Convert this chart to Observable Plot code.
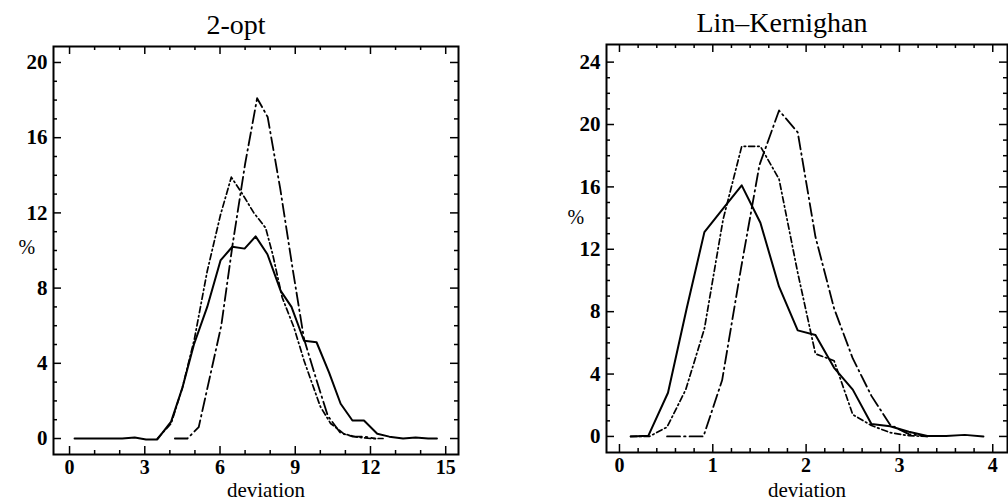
<!DOCTYPE html>
<html><head><meta charset="utf-8">
<script src="https://cdn.jsdelivr.net/npm/d3@7"></script>
<script src="https://cdn.jsdelivr.net/npm/@observablehq/plot@0.6"></script>
<style>
html,body{margin:0;padding:0;background:#fff;}
#wrap{position:relative;width:1008px;height:502px;overflow:hidden;}
.panel{position:absolute;top:0;width:504px;height:502px;}
</style>
</head><body>
<div id="wrap"><div class="panel" id="p1" style="left:0"></div><div class="panel" id="p2" style="left:504px"></div></div>
<script>
// ---------- 2-opt panel data ----------
const optTitle = "2-opt";
const optSolidX = [0.2,0.7,1.2,1.6,2.1,2.6,3.05,3.5,4.05,4.5,4.96,5.49,6.02,6.49,6.98,7.42,7.89,8.42,8.85,9.35,9.85,10.35,10.81,11.28,11.74,12.27,12.75,13.3,13.8,14.3,14.65];
const optSolidY = [0,0,0,0,0,0.05,-0.05,-0.05,0.9,2.7,5.0,7.0,9.47,10.2,10.1,10.75,9.8,7.85,7.0,5.2,5.12,3.5,1.85,0.96,0.96,0.25,0.1,0,0.05,0,0];
const optDashDotX = [3.5,4.05,4.5,4.98,5.49,6.02,6.45,6.85,7.35,7.82,8.1,8.48,8.95,9.35,9.68,10.0,10.41,10.94,11.47,12.0,12.5];
const optDashDotY = [0,0.8,2.7,5.3,8.9,11.9,13.9,13.1,12.0,11.2,9.8,7.5,5.9,4.15,2.9,1.7,0.8,0.25,0.07,0,0];
const optLongDashX = [4.2,4.7,5.15,5.6,6.05,6.5,7.0,7.48,7.9,8.4,8.9,9.35,9.85,10.3,10.8,11.3,11.75,12.2];
const optLongDashY = [0,0,0.6,3.3,6.0,10.3,14.6,18.1,17.1,13.3,9.0,5.3,3.1,1.2,0.3,0.1,0.1,0];
const optXTicks = [0,3,6,9,12,15];
const optXMinor = [1,2,4,5,7,8,10,11,13,14];
const optYTicks = [0,4,8,12,16,20];
const optYMinor = [1,2,3,5,6,7,9,10,11,13,14,15,17,18,19];

// ---------- Lin–Kernighan panel data ----------
const lkTitle = "Lin\u2013Kernighan";
const lkSolidX = [0.12,0.31,0.52,0.72,0.91,1.11,1.31,1.51,1.71,1.91,2.1,2.3,2.5,2.7,2.9,3.1,3.3,3.5,3.7,3.9];
const lkSolidY = [0,0.05,2.8,8.2,13.1,14.6,16.1,13.7,9.6,6.8,6.5,4.4,3.0,0.8,0.65,0.3,0.03,0.03,0.1,0];
const lkDashDotX = [0.12,0.32,0.51,0.71,0.91,1.11,1.31,1.51,1.71,1.91,2.1,2.3,2.5,2.7,2.9,3.1,3.3];
const lkDashDotY = [0,0,0.6,3.0,6.9,13.9,18.6,18.6,16.5,10.5,5.3,4.85,1.4,0.7,0.25,0.05,0];
const lkLongDashX = [0.51,0.71,0.9,1.1,1.3,1.5,1.71,1.91,2.1,2.3,2.5,2.7,2.9,3.1,3.3];
const lkLongDashY = [0,0,0,3.6,10.7,17.4,20.9,19.5,12.8,8.2,5.0,2.6,0.75,0.15,0];
const lkXTicks = [0,1,2,3,4];
const lkXMinor = [0.2,0.4,0.6,0.8,1.2,1.4,1.6,1.8,2.2,2.4,2.6,2.8,3.2,3.4,3.6,3.8];
const lkYTicks = [0,4,8,12,16,20,24];
const lkYMinor = [1,2,3,5,6,7,9,10,11,13,14,15,17,18,19,21,22,23];

const xLabel = "deviation";
const yLabel = "%";
const FONT = "'Liberation Serif','Times New Roman',serif";

function rows(xs, ys){ return xs.map((x,i)=>({x, y: ys[i]})); }

function panel(cfg){
  const W = 504, H = 502;
  const iw = W - cfg.ml - cfg.mr, ih = H - cfg.mt - cfg.mb;
  const ticks = [];
  for (const [vals, len] of [[cfg.xTicks, 8], [cfg.xMinor, 4]]) {
    ticks.push(Plot.ruleX(vals, {x: d => d, insetTop: ih - len, strokeWidth: 1.5, stroke: "#000"}));
    ticks.push(Plot.ruleX(vals, {x: d => d, insetBottom: ih - len, strokeWidth: 1.5, stroke: "#000"}));
  }
  for (const [vals, len] of [[cfg.yTicks, 8], [cfg.yMinor, 4]]) {
    ticks.push(Plot.ruleY(vals, {y: d => d, insetRight: iw - len, strokeWidth: 1.5, stroke: "#000"}));
    ticks.push(Plot.ruleY(vals, {y: d => d, insetLeft: iw - len, strokeWidth: 1.5, stroke: "#000"}));
  }
  return Plot.plot({
    width: W, height: H,
    marginLeft: cfg.ml, marginRight: cfg.mr, marginTop: cfg.mt, marginBottom: cfg.mb,
    x: {domain: cfg.xDomain, label: null},
    y: {domain: cfg.yDomain, label: null},
    style: {fontFamily: FONT, background: "white", color: "black", overflow: "visible"},
    marks: [
      ...ticks,
      Plot.frame({stroke: "#000", strokeWidth: 2}),
      Plot.axisX({ticks: cfg.xTicks, tickFormat: d => String(d), tickSize: 0, tickPadding: 5, fontSize: 20, fontWeight: "bold", label: null}),
      Plot.axisY({ticks: cfg.yTicks, tickFormat: d => String(d), tickSize: 0, tickPadding: 6, fontSize: 21, fontWeight: "bold", label: null}),
      Plot.line(rows(cfg.sx, cfg.sy), {x: "x", y: "y", stroke: "#000", strokeWidth: 2}),
      Plot.line(rows(cfg.dx, cfg.dy), {x: "x", y: "y", stroke: "#000", strokeWidth: 1.7, strokeDasharray: "6,3,1.5,3"}),
      Plot.line(rows(cfg.lx, cfg.ly), {x: "x", y: "y", stroke: "#000", strokeWidth: 1.8, strokeDasharray: "13,4,1.5,4"}),
      Plot.text([cfg.title], {text: d => d, frameAnchor: "top", lineAnchor: "middle", dy: -21, dx: cfg.titleDx, fontSize: 28}),
      Plot.text([xLabel], {text: d => d, frameAnchor: "bottom", lineAnchor: "middle", dy: cfg.xlDy, dx: cfg.xlDx, fontSize: 21}),
      Plot.text([yLabel], {text: d => d, frameAnchor: "left", lineAnchor: "middle", dx: cfg.ylDx, dy: cfg.ylDy, fontSize: 20})
    ]
  });
}

document.getElementById("p1").append(panel({
  ml: 53, mr: 46, mt: 46, mb: 48,
  xDomain: [-0.64, 15.51], yDomain: [-0.85, 20.85],
  xTicks: optXTicks, xMinor: optXMinor, yTicks: optYTicks, yMinor: optYMinor,
  sx: optSolidX, sy: optSolidY, dx: optDashDotX, dy: optDashDotY, lx: optLongDashX, ly: optLongDashY,
  title: optTitle, titleDx: -20, xlDy: 36, xlDx: 10, ylDx: -35, ylDy: -3
}));
document.getElementById("p2").append(panel({
  ml: 102, mr: 1, mt: 44, mb: 50,
  xDomain: [-0.139, 4.158], yDomain: [-1.03, 25.13],
  xTicks: lkXTicks, xMinor: lkXMinor, yTicks: lkYTicks, yMinor: lkYMinor,
  sx: lkSolidX, sy: lkSolidY, dx: lkDashDotX, dy: lkDashDotY, lx: lkLongDashX, ly: lkLongDashY,
  title: lkTitle, titleDx: -25, xlDy: 38, xlDx: 0, ylDx: -39, ylDy: -31
}));
</script>
</body></html>
